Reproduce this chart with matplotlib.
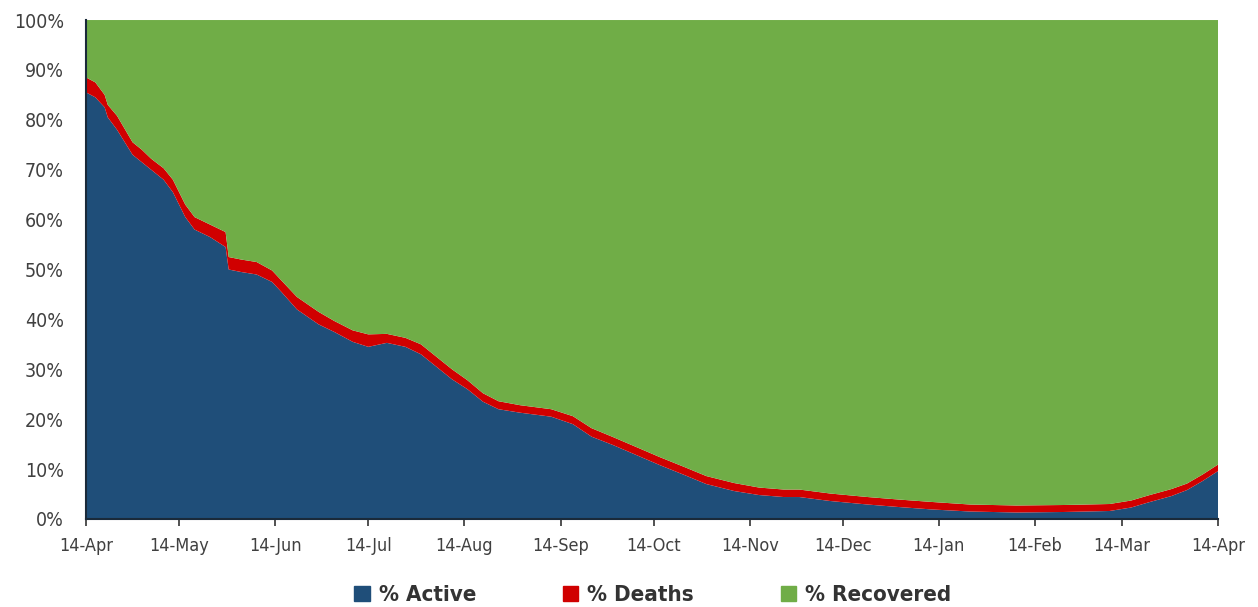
import matplotlib
matplotlib.use('Agg')
import matplotlib.pyplot as plt
import matplotlib.dates as mdates
from matplotlib.patches import Patch
import numpy as np
import pandas as pd

# days since 14-Apr-2020
day = [0, 3, 6, 7, 10, 15, 18, 21, 25, 28, 32, 35, 40, 45, 46, 50, 55, 60, 63, 68,
       75, 80, 86, 91, 97, 103, 108, 112, 118, 123, 128, 133, 140, 150, 157, 163, 170,
       176, 185, 193, 200, 209, 217, 225, 230, 240, 252, 262, 273, 285, 300, 315, 330,
       337, 343, 350, 355, 360, 365]
active = [85.5, 84.5, 82.5, 80.5, 78.0, 73.0, 71.5, 70.0, 68.0, 65.5, 60.5, 58.0, 56.5, 54.5,
          50.0, 49.5, 49.0, 47.5, 45.5, 42.0, 39.0, 37.5, 35.5, 34.5, 35.3, 34.5, 33.0, 31.0,
          28.0, 26.0, 23.5, 22.0, 21.3, 20.5, 19.0, 16.5, 14.8, 13.2, 10.8, 8.8, 7.0, 5.6,
          4.8, 4.4, 4.4, 3.6, 2.9, 2.4, 1.9, 1.5, 1.3, 1.4, 1.6, 2.3, 3.4, 4.6, 5.8, 7.6, 9.6]
deaths = [3.0, 3.0, 2.5, 2.5, 2.8, 2.5, 2.5, 2.2, 2.3, 2.5, 2.5, 2.5, 2.5, 3.0,
          2.5, 2.5, 2.5, 2.3, 2.3, 2.5, 2.5, 2.2, 2.3, 2.5, 1.8, 1.8, 2.0, 2.0,
          2.0, 1.8, 1.7, 1.6, 1.5, 1.5, 1.6, 1.7, 1.6, 1.6, 1.6, 1.6, 1.6, 1.6,
          1.5, 1.5, 1.5, 1.5, 1.5, 1.5, 1.5, 1.4, 1.4, 1.4, 1.4, 1.4, 1.4, 1.4, 1.3, 1.3, 1.3]

start = pd.Timestamp('2020-04-14')
dates = [start + pd.Timedelta(days=d) for d in day]
active = np.array(active)
deaths = np.array(deaths)
recovered = 100 - active - deaths

tick_dates = pd.date_range('2020-04-01', '2021-04-01', freq='MS') + pd.Timedelta(days=13)

c_active = '#1F4E79'
c_deaths = '#D00000'
c_recovered = '#70AD47'

plt.rcParams['font.family'] = ['DejaVu Sans']
plt.rcParams['font.stretch'] = 'condensed'

fig = plt.figure(figsize=(12.58, 6.07), dpi=100)
ax = fig.add_axes([0.0684, 0.145, 0.8998, 0.822])

ax.stackplot(dates, active, deaths, recovered,
             colors=[c_active, c_deaths, c_recovered], linewidth=0)

ax.set_xlim(start, start + pd.Timedelta(days=365))
ax.set_ylim(0, 100)
ax.set_xticks(tick_dates)
ax.xaxis.set_major_formatter(mdates.DateFormatter('%d-%b'))
ax.set_yticks(range(0, 101, 10))
ax.set_yticklabels(['%d%%' % v for v in range(0, 101, 10)])

for s in ['top', 'right']:
    ax.spines[s].set_visible(False)
ax.spines['left'].set_color('#1a2a3a')
ax.spines['bottom'].set_color('#1a2a3a')
ax.spines['left'].set_linewidth(1.5)
ax.spines['bottom'].set_linewidth(1.5)
ax.tick_params(axis='x', length=5, width=1.2, color='#333333', labelsize=13,
               labelcolor='#404040', pad=8)
ax.tick_params(axis='y', length=0, labelsize=14, labelcolor='#404040', pad=16)

handles = [Patch(color=c_active, label='% Active'),
           Patch(color=c_deaths, label='% Deaths'),
           Patch(color=c_recovered, label='% Recovered')]
leg = fig.legend(handles=handles, loc='lower center', bbox_to_anchor=(0.519, -0.03),
                 ncol=3, frameon=False, handlelength=0.7, handleheight=0.7,
                 handletextpad=0.4, columnspacing=3.9,
                 prop={'size': 16, 'weight': 'bold'})
for t in leg.get_texts():
    t.set_color('#333333')

fig.savefig('out.png', dpi=100)
